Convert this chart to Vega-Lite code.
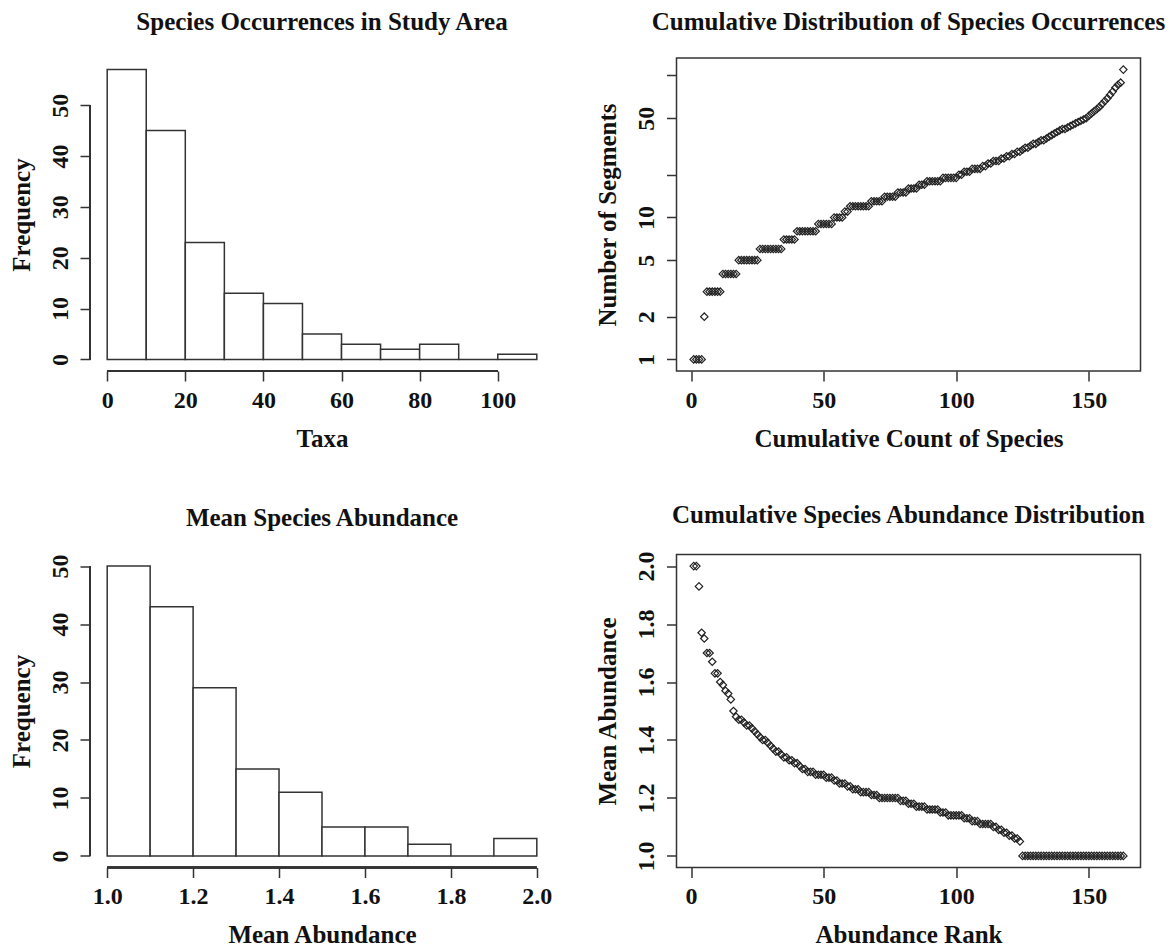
{
  "$schema": "https://vega.github.io/schema/vega-lite/v6.json",
  "background": "white",
  "padding": {"left": 9, "top": 9, "right": 5, "bottom": 5},
  "datasets": {
    "occ_hist": [
      {"lo": 0, "hi": 10, "n": 57}, {"lo": 10, "hi": 20, "n": 45}, {"lo": 20, "hi": 30, "n": 23},
      {"lo": 30, "hi": 40, "n": 13}, {"lo": 40, "hi": 50, "n": 11}, {"lo": 50, "hi": 60, "n": 5},
      {"lo": 60, "hi": 70, "n": 3}, {"lo": 70, "hi": 80, "n": 2}, {"lo": 80, "hi": 90, "n": 3},
      {"lo": 90, "hi": 100, "n": 0}, {"lo": 100, "hi": 110, "n": 1}
    ],
    "abund_hist": [
      {"lo": 1.0, "hi": 1.1, "n": 50}, {"lo": 1.1, "hi": 1.2, "n": 43}, {"lo": 1.2, "hi": 1.3, "n": 29},
      {"lo": 1.3, "hi": 1.4, "n": 15}, {"lo": 1.4, "hi": 1.5, "n": 11}, {"lo": 1.5, "hi": 1.6, "n": 5},
      {"lo": 1.6, "hi": 1.7, "n": 5}, {"lo": 1.7, "hi": 1.8, "n": 2}, {"lo": 1.8, "hi": 1.9, "n": 0},
      {"lo": 1.9, "hi": 2.0, "n": 3}
    ],
    "occ": [
      {"rank": 1, "segments": 1}, {"rank": 2, "segments": 1}, {"rank": 3, "segments": 1}, {"rank": 4, "segments": 1},
      {"rank": 5, "segments": 2},
      {"rank": 6, "segments": 3}, {"rank": 7, "segments": 3}, {"rank": 8, "segments": 3}, {"rank": 9, "segments": 3}, {"rank": 10, "segments": 3}, {"rank": 11, "segments": 3},
      {"rank": 12, "segments": 4}, {"rank": 13, "segments": 4}, {"rank": 14, "segments": 4}, {"rank": 15, "segments": 4}, {"rank": 16, "segments": 4}, {"rank": 17, "segments": 4},
      {"rank": 18, "segments": 5}, {"rank": 19, "segments": 5}, {"rank": 20, "segments": 5}, {"rank": 21, "segments": 5}, {"rank": 22, "segments": 5}, {"rank": 23, "segments": 5}, {"rank": 24, "segments": 5}, {"rank": 25, "segments": 5},
      {"rank": 26, "segments": 6}, {"rank": 27, "segments": 6}, {"rank": 28, "segments": 6}, {"rank": 29, "segments": 6}, {"rank": 30, "segments": 6}, {"rank": 31, "segments": 6}, {"rank": 32, "segments": 6}, {"rank": 33, "segments": 6}, {"rank": 34, "segments": 6},
      {"rank": 35, "segments": 7}, {"rank": 36, "segments": 7}, {"rank": 37, "segments": 7}, {"rank": 38, "segments": 7}, {"rank": 39, "segments": 7},
      {"rank": 40, "segments": 8}, {"rank": 41, "segments": 8}, {"rank": 42, "segments": 8}, {"rank": 43, "segments": 8}, {"rank": 44, "segments": 8}, {"rank": 45, "segments": 8}, {"rank": 46, "segments": 8}, {"rank": 47, "segments": 8},
      {"rank": 48, "segments": 9}, {"rank": 49, "segments": 9}, {"rank": 50, "segments": 9}, {"rank": 51, "segments": 9}, {"rank": 52, "segments": 9}, {"rank": 53, "segments": 9},
      {"rank": 54, "segments": 10}, {"rank": 55, "segments": 10}, {"rank": 56, "segments": 10}, {"rank": 57, "segments": 10},
      {"rank": 58, "segments": 11}, {"rank": 59, "segments": 11},
      {"rank": 60, "segments": 12}, {"rank": 61, "segments": 12}, {"rank": 62, "segments": 12}, {"rank": 63, "segments": 12}, {"rank": 64, "segments": 12}, {"rank": 65, "segments": 12}, {"rank": 66, "segments": 12}, {"rank": 67, "segments": 12},
      {"rank": 68, "segments": 13}, {"rank": 69, "segments": 13}, {"rank": 70, "segments": 13}, {"rank": 71, "segments": 13}, {"rank": 72, "segments": 13},
      {"rank": 73, "segments": 14}, {"rank": 74, "segments": 14}, {"rank": 75, "segments": 14}, {"rank": 76, "segments": 14}, {"rank": 77, "segments": 14},
      {"rank": 78, "segments": 15}, {"rank": 79, "segments": 15}, {"rank": 80, "segments": 15}, {"rank": 81, "segments": 15},
      {"rank": 82, "segments": 16}, {"rank": 83, "segments": 16}, {"rank": 84, "segments": 16}, {"rank": 85, "segments": 16},
      {"rank": 86, "segments": 17}, {"rank": 87, "segments": 17}, {"rank": 88, "segments": 17},
      {"rank": 89, "segments": 18}, {"rank": 90, "segments": 18}, {"rank": 91, "segments": 18}, {"rank": 92, "segments": 18}, {"rank": 93, "segments": 18}, {"rank": 94, "segments": 18},
      {"rank": 95, "segments": 19}, {"rank": 96, "segments": 19}, {"rank": 97, "segments": 19}, {"rank": 98, "segments": 19}, {"rank": 99, "segments": 19}, {"rank": 100, "segments": 19},
      {"rank": 101, "segments": 20}, {"rank": 102, "segments": 20},
      {"rank": 103, "segments": 21}, {"rank": 104, "segments": 21}, {"rank": 105, "segments": 21},
      {"rank": 106, "segments": 22}, {"rank": 107, "segments": 22}, {"rank": 108, "segments": 22}, {"rank": 109, "segments": 22},
      {"rank": 110, "segments": 23}, {"rank": 111, "segments": 23},
      {"rank": 112, "segments": 24}, {"rank": 113, "segments": 24},
      {"rank": 114, "segments": 25}, {"rank": 115, "segments": 25}, {"rank": 116, "segments": 25},
      {"rank": 117, "segments": 26}, {"rank": 118, "segments": 26},
      {"rank": 119, "segments": 27}, {"rank": 120, "segments": 27},
      {"rank": 121, "segments": 28}, {"rank": 122, "segments": 28},
      {"rank": 123, "segments": 29}, {"rank": 124, "segments": 29},
      {"rank": 125, "segments": 30},
      {"rank": 126, "segments": 31}, {"rank": 127, "segments": 31}, {"rank": 128, "segments": 32}, {"rank": 129, "segments": 33}, {"rank": 130, "segments": 33},
      {"rank": 131, "segments": 34}, {"rank": 132, "segments": 35}, {"rank": 133, "segments": 35}, {"rank": 134, "segments": 36}, {"rank": 135, "segments": 37},
      {"rank": 136, "segments": 38}, {"rank": 137, "segments": 39}, {"rank": 138, "segments": 40},
      {"rank": 139, "segments": 41}, {"rank": 140, "segments": 42}, {"rank": 141, "segments": 42}, {"rank": 142, "segments": 43}, {"rank": 143, "segments": 44},
      {"rank": 144, "segments": 45}, {"rank": 145, "segments": 46}, {"rank": 146, "segments": 47}, {"rank": 147, "segments": 48}, {"rank": 148, "segments": 49}, {"rank": 149, "segments": 50},
      {"rank": 150, "segments": 52}, {"rank": 151, "segments": 54}, {"rank": 152, "segments": 56}, {"rank": 153, "segments": 58}, {"rank": 154, "segments": 60},
      {"rank": 155, "segments": 63}, {"rank": 156, "segments": 66}, {"rank": 157, "segments": 69},
      {"rank": 158, "segments": 73}, {"rank": 159, "segments": 77},
      {"rank": 160, "segments": 82}, {"rank": 161, "segments": 86}, {"rank": 162, "segments": 89},
      {"rank": 163, "segments": 110}
    ],
    "abund": [
      {"rank": 1, "abundance": 2.0}, {"rank": 2, "abundance": 2.0}, {"rank": 3, "abundance": 1.93},
      {"rank": 4, "abundance": 1.77}, {"rank": 5, "abundance": 1.75},
      {"rank": 6, "abundance": 1.70}, {"rank": 7, "abundance": 1.70}, {"rank": 8, "abundance": 1.67}, {"rank": 9, "abundance": 1.63}, {"rank": 10, "abundance": 1.63},
      {"rank": 11, "abundance": 1.60}, {"rank": 12, "abundance": 1.59}, {"rank": 13, "abundance": 1.57}, {"rank": 14, "abundance": 1.56}, {"rank": 15, "abundance": 1.54},
      {"rank": 16, "abundance": 1.50}, {"rank": 17, "abundance": 1.48}, {"rank": 18, "abundance": 1.47}, {"rank": 19, "abundance": 1.47}, {"rank": 20, "abundance": 1.46},
      {"rank": 21, "abundance": 1.45}, {"rank": 22, "abundance": 1.45}, {"rank": 23, "abundance": 1.44}, {"rank": 24, "abundance": 1.43}, {"rank": 25, "abundance": 1.42}, {"rank": 26, "abundance": 1.41},
      {"rank": 27, "abundance": 1.40}, {"rank": 28, "abundance": 1.40}, {"rank": 29, "abundance": 1.39}, {"rank": 30, "abundance": 1.38}, {"rank": 31, "abundance": 1.37},
      {"rank": 32, "abundance": 1.36}, {"rank": 33, "abundance": 1.36}, {"rank": 34, "abundance": 1.35}, {"rank": 35, "abundance": 1.34}, {"rank": 36, "abundance": 1.34},
      {"rank": 37, "abundance": 1.33}, {"rank": 38, "abundance": 1.33}, {"rank": 39, "abundance": 1.32}, {"rank": 40, "abundance": 1.32}, {"rank": 41, "abundance": 1.31},
      {"rank": 42, "abundance": 1.30}, {"rank": 43, "abundance": 1.30}, {"rank": 44, "abundance": 1.29}, {"rank": 45, "abundance": 1.29}, {"rank": 46, "abundance": 1.29},
      {"rank": 47, "abundance": 1.28}, {"rank": 48, "abundance": 1.28}, {"rank": 49, "abundance": 1.28}, {"rank": 50, "abundance": 1.28},
      {"rank": 51, "abundance": 1.27}, {"rank": 52, "abundance": 1.27}, {"rank": 53, "abundance": 1.27}, {"rank": 54, "abundance": 1.26}, {"rank": 55, "abundance": 1.26},
      {"rank": 56, "abundance": 1.25}, {"rank": 57, "abundance": 1.25}, {"rank": 58, "abundance": 1.25}, {"rank": 59, "abundance": 1.24}, {"rank": 60, "abundance": 1.24},
      {"rank": 61, "abundance": 1.23}, {"rank": 62, "abundance": 1.23}, {"rank": 63, "abundance": 1.23}, {"rank": 64, "abundance": 1.22}, {"rank": 65, "abundance": 1.22},
      {"rank": 66, "abundance": 1.22}, {"rank": 67, "abundance": 1.22}, {"rank": 68, "abundance": 1.21}, {"rank": 69, "abundance": 1.21}, {"rank": 70, "abundance": 1.21},
      {"rank": 71, "abundance": 1.20}, {"rank": 72, "abundance": 1.20}, {"rank": 73, "abundance": 1.20}, {"rank": 74, "abundance": 1.20}, {"rank": 75, "abundance": 1.20},
      {"rank": 76, "abundance": 1.20}, {"rank": 77, "abundance": 1.20}, {"rank": 78, "abundance": 1.20},
      {"rank": 79, "abundance": 1.19}, {"rank": 80, "abundance": 1.19}, {"rank": 81, "abundance": 1.19},
      {"rank": 82, "abundance": 1.18}, {"rank": 83, "abundance": 1.18}, {"rank": 84, "abundance": 1.18},
      {"rank": 85, "abundance": 1.17}, {"rank": 86, "abundance": 1.17}, {"rank": 87, "abundance": 1.17}, {"rank": 88, "abundance": 1.17},
      {"rank": 89, "abundance": 1.16}, {"rank": 90, "abundance": 1.16}, {"rank": 91, "abundance": 1.16}, {"rank": 92, "abundance": 1.16}, {"rank": 93, "abundance": 1.16},
      {"rank": 94, "abundance": 1.15}, {"rank": 95, "abundance": 1.15}, {"rank": 96, "abundance": 1.15},
      {"rank": 97, "abundance": 1.14}, {"rank": 98, "abundance": 1.14}, {"rank": 99, "abundance": 1.14}, {"rank": 100, "abundance": 1.14}, {"rank": 101, "abundance": 1.14}, {"rank": 102, "abundance": 1.14},
      {"rank": 103, "abundance": 1.13}, {"rank": 104, "abundance": 1.13}, {"rank": 105, "abundance": 1.13},
      {"rank": 106, "abundance": 1.12}, {"rank": 107, "abundance": 1.12}, {"rank": 108, "abundance": 1.12},
      {"rank": 109, "abundance": 1.11}, {"rank": 110, "abundance": 1.11}, {"rank": 111, "abundance": 1.11}, {"rank": 112, "abundance": 1.11}, {"rank": 113, "abundance": 1.11},
      {"rank": 114, "abundance": 1.10}, {"rank": 115, "abundance": 1.10}, {"rank": 116, "abundance": 1.09}, {"rank": 117, "abundance": 1.09}, {"rank": 118, "abundance": 1.08},
      {"rank": 119, "abundance": 1.08}, {"rank": 120, "abundance": 1.07}, {"rank": 121, "abundance": 1.07}, {"rank": 122, "abundance": 1.06}, {"rank": 123, "abundance": 1.06},
      {"rank": 124, "abundance": 1.05},
      {"rank": 125, "abundance": 1.0}, {"rank": 126, "abundance": 1.0}, {"rank": 127, "abundance": 1.0}, {"rank": 128, "abundance": 1.0}, {"rank": 129, "abundance": 1.0},
      {"rank": 130, "abundance": 1.0}, {"rank": 131, "abundance": 1.0}, {"rank": 132, "abundance": 1.0}, {"rank": 133, "abundance": 1.0}, {"rank": 134, "abundance": 1.0},
      {"rank": 135, "abundance": 1.0}, {"rank": 136, "abundance": 1.0}, {"rank": 137, "abundance": 1.0}, {"rank": 138, "abundance": 1.0}, {"rank": 139, "abundance": 1.0},
      {"rank": 140, "abundance": 1.0}, {"rank": 141, "abundance": 1.0}, {"rank": 142, "abundance": 1.0}, {"rank": 143, "abundance": 1.0}, {"rank": 144, "abundance": 1.0},
      {"rank": 145, "abundance": 1.0}, {"rank": 146, "abundance": 1.0}, {"rank": 147, "abundance": 1.0}, {"rank": 148, "abundance": 1.0}, {"rank": 149, "abundance": 1.0},
      {"rank": 150, "abundance": 1.0}, {"rank": 151, "abundance": 1.0}, {"rank": 152, "abundance": 1.0}, {"rank": 153, "abundance": 1.0}, {"rank": 154, "abundance": 1.0},
      {"rank": 155, "abundance": 1.0}, {"rank": 156, "abundance": 1.0}, {"rank": 157, "abundance": 1.0}, {"rank": 158, "abundance": 1.0}, {"rank": 159, "abundance": 1.0},
      {"rank": 160, "abundance": 1.0}, {"rank": 161, "abundance": 1.0}, {"rank": 162, "abundance": 1.0}, {"rank": 163, "abundance": 1.0}
    ]
  },
  "columns": 2,
  "spacing": {"row": 183.5, "column": 122.5},
  "bounds": "flush",
  "concat": [
    {
      "title": "Species Occurrences in Study Area",
      "width": 464,
      "height": 313,
      "view": {"stroke": null},
      "data": {"name": "occ_hist"},
      "layer": [
        {
          "mark": {"type": "bar", "fill": "white", "stroke": "#333", "strokeWidth": 1.5},
          "encoding": {
            "x": {"field": "lo", "type": "quantitative", "scale": {"domain": [-4.4, 114.4], "nice": false, "zero": false}, "axis": {"values": [0, 20, 40, 60, 80, 100], "title": "Taxa"}},
            "x2": {"field": "hi"},
            "y": {"field": "n", "type": "quantitative", "scale": {"domain": [-2.28, 59.28], "nice": false, "zero": false}, "axis": {"values": [0, 10, 20, 30, 40, 50], "title": "Frequency"}},
            "y2": {"datum": 0}
          }
        },
        {
          "mark": {"type": "rule", "stroke": "#333", "strokeWidth": 1.5},
          "encoding": {"x": {"datum": -4.4}, "y": {"datum": 0}, "y2": {"datum": 50}}
        },
        {
          "mark": {"type": "rule", "stroke": "#333", "strokeWidth": 1.5},
          "encoding": {"y": {"datum": -2.28}, "x": {"datum": 0}, "x2": {"datum": 100}}
        }
      ]
    },
    {
      "title": "Cumulative Distribution of Species Occurrences",
      "width": 464,
      "height": 313,
      "view": {"stroke": "#333", "strokeWidth": 1.5},
      "data": {"name": "occ"},
      "mark": {"type": "point", "shape": "diamond", "size": 55, "filled": false, "stroke": "#222", "strokeWidth": 1.2, "opacity": 1},
      "encoding": {
        "x": {"field": "rank", "type": "quantitative", "scale": {"domain": [-5.48, 169.48], "nice": false, "zero": false}, "axis": {"values": [0, 50, 100, 150], "title": "Cumulative Count of Species"}},
        "y": {"field": "segments", "type": "quantitative", "scale": {"type": "log", "domain": [0.8285, 132.8], "nice": false}, "axis": {"values": [1, 2, 5, 10, 20, 50, 100], "labelExpr": "datum.value == 20 || datum.value == 100 ? '' : format(datum.value, 'd')", "title": "Number of Segments"}}
      }
    },
    {
      "title": "Mean Species Abundance",
      "width": 464,
      "height": 313,
      "view": {"stroke": null},
      "data": {"name": "abund_hist"},
      "layer": [
        {
          "mark": {"type": "bar", "fill": "white", "stroke": "#333", "strokeWidth": 1.5},
          "encoding": {
            "x": {"field": "lo", "type": "quantitative", "scale": {"domain": [0.96, 2.04], "nice": false, "zero": false}, "axis": {"values": [1.0, 1.2, 1.4, 1.6, 1.8, 2.0], "format": ".1f", "title": "Mean Abundance"}},
            "x2": {"field": "hi"},
            "y": {"field": "n", "type": "quantitative", "scale": {"domain": [-2, 52], "nice": false, "zero": false}, "axis": {"values": [0, 10, 20, 30, 40, 50], "title": "Frequency"}},
            "y2": {"datum": 0}
          }
        },
        {
          "mark": {"type": "rule", "stroke": "#333", "strokeWidth": 1.5},
          "encoding": {"x": {"datum": 0.96}, "y": {"datum": 0}, "y2": {"datum": 50}}
        },
        {
          "mark": {"type": "rule", "stroke": "#333", "strokeWidth": 1.5},
          "encoding": {"y": {"datum": -2}, "x": {"datum": 1.0}, "x2": {"datum": 2.0}}
        }
      ]
    },
    {
      "title": "Cumulative Species Abundance Distribution",
      "width": 464,
      "height": 313,
      "view": {"stroke": "#333", "strokeWidth": 1.5},
      "data": {"name": "abund"},
      "mark": {"type": "point", "shape": "diamond", "size": 55, "filled": false, "stroke": "#222", "strokeWidth": 1.2, "opacity": 1},
      "encoding": {
        "x": {"field": "rank", "type": "quantitative", "scale": {"domain": [-5.48, 169.48], "nice": false, "zero": false}, "axis": {"values": [0, 50, 100, 150], "title": "Abundance Rank"}},
        "y": {"field": "abundance", "type": "quantitative", "scale": {"domain": [0.96, 2.04], "nice": false, "zero": false}, "axis": {"values": [1.0, 1.2, 1.4, 1.6, 1.8, 2.0], "format": ".1f", "title": "Mean Abundance"}}
      }
    }
  ],
  "config": {
    "font": "Liberation Serif",
    "axis": {
      "grid": false,
      "domain": false,
      "ticks": true,
      "tickColor": "#333",
      "tickWidth": 1.5,
      "tickSize": 10,
      "labelFont": "Liberation Serif",
      "labelFontSize": 24,
      "labelFontWeight": "bold",
      "labelColor": "#111",
      "labelOverlap": false,
      "labelFlush": false,
      "titleFont": "Liberation Serif",
      "titleFontSize": 25,
      "titleFontWeight": "bold",
      "titleColor": "#111"
    },
    "axisLeft": {
      "labelAngle": -90,
      "labelAlign": "center",
      "labelBaseline": "bottom",
      "labelPadding": 8,
      "titleAngle": -90,
      "titleX": -61,
      "titleY": 156.5,
      "titleAlign": "center",
      "titleBaseline": "alphabetic"
    },
    "axisBottom": {
      "labelAngle": 0,
      "labelBaseline": "top",
      "labelPadding": 7,
      "titleX": 232,
      "titleY": 75,
      "titleAlign": "center",
      "titleBaseline": "alphabetic"
    },
    "title": {
      "font": "Liberation Serif",
      "fontSize": 25,
      "fontWeight": "bold",
      "color": "#111",
      "anchor": "middle",
      "frame": "group",
      "baseline": "alphabetic",
      "offset": 23
    }
  }
}
